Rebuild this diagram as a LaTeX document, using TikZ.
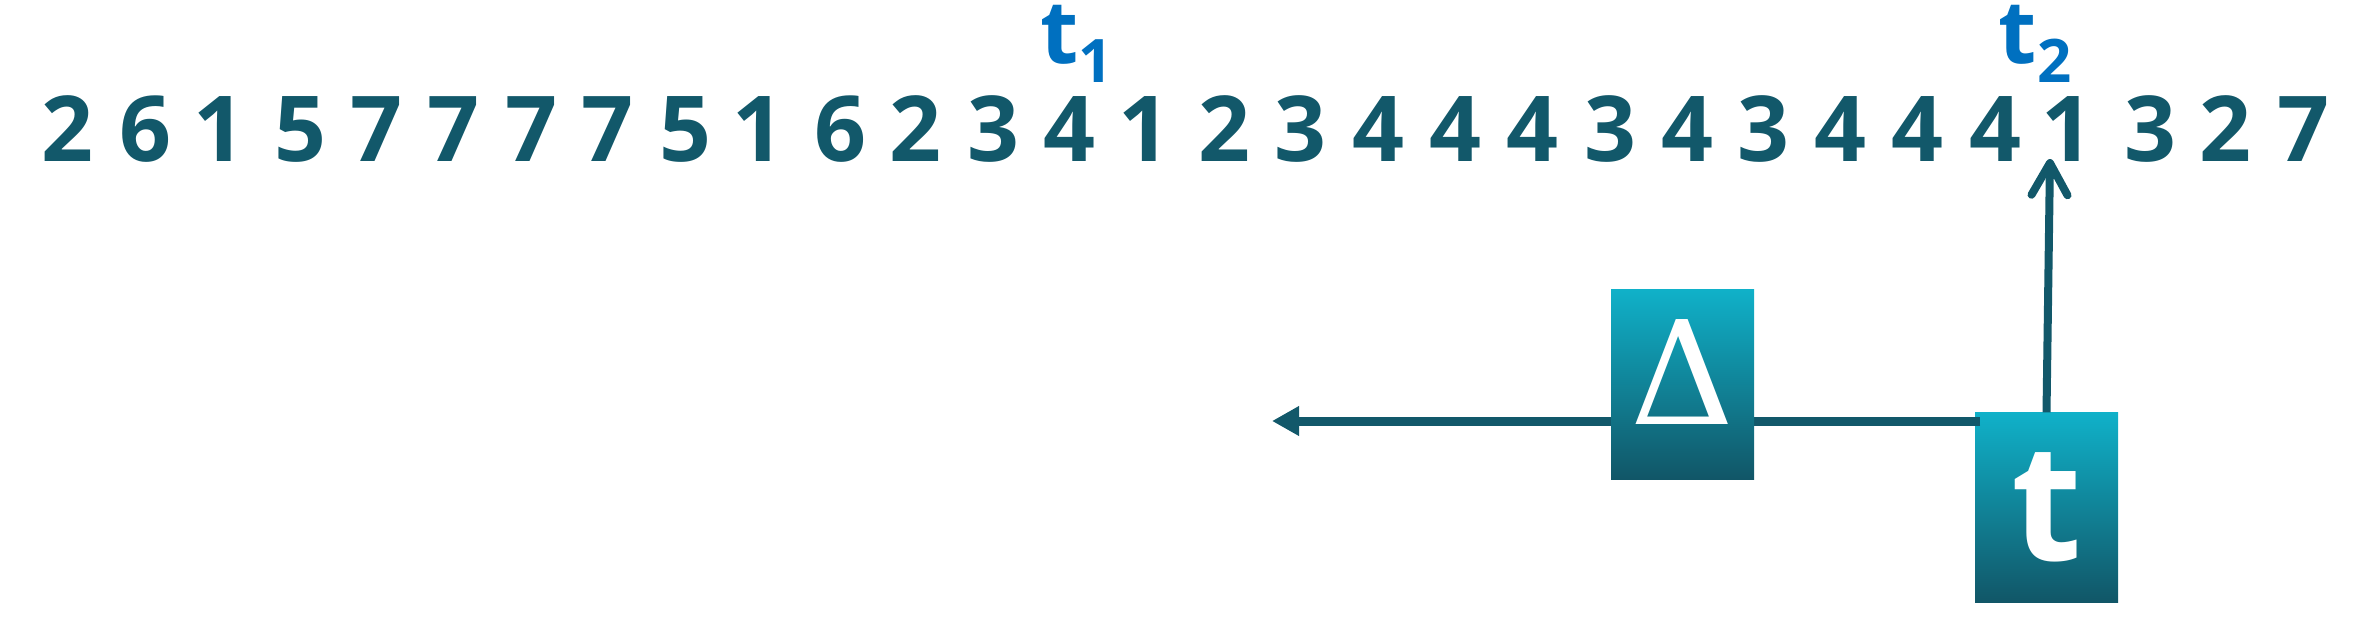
\documentclass[tikz,border=0pt]{standalone}
\usepackage{fontspec}
\setmainfont{Open Sans}
\newfontfamily\deltafont{DejaVu Serif}
\usetikzlibrary{arrows.meta}
\definecolor{digitcol}{HTML}{12586A}
\definecolor{tblue}{HTML}{0070C0}
\definecolor{gradtop}{HTML}{10B1C9}
\definecolor{gradbot}{HTML}{115667}
\tikzset{
  digit/.style={anchor=base, inner sep=0pt, text=digitcol, font=\bfseries\fontsize{91}{91}\selectfont},
  tlabel/.style={anchor=base, inner sep=0pt, text=tblue, font=\bfseries\fontsize{88}{88}\selectfont},
  gradbox/.style={rectangle, draw=none, minimum width=143pt, minimum height=190pt, inner sep=0pt,
    top color=gradtop, bottom color=gradbot, text=white},
  conn/.style={draw=digitcol, line width=9pt},
}
\begin{document}
\begin{tikzpicture}[x=1pt, y=-1pt]
\useasboundingbox (0,0) rectangle (2356,619);
% digit sequence
\foreach \x/\d [count=\i] in {67/2,145/6,219/1,300/5,376/7,453/7,531/7,607/7,685/5,758/1,
  840/6,915/2,993/3,1069/4,1144/1,1224/2,1300/3,1378/4,1455/4,1532/4,1610/3,1687/4,1763/3,
  1840/4,1917/4,1995/4,2067/1,2150/3,2225/2,2303/7}
  \node[digit] (d\i) at (\x,161) {\d};
% time labels
\node[tlabel] (t1) at (1077,63) {t\raisebox{-19pt}{\fontsize{60}{60}\selectfont 1}};
\node[tlabel] (t2) at (2035,63) {t\raisebox{-19pt}{\fontsize{60}{60}\selectfont 2}};
% t box
\node[gradbox, font=\bfseries\fontsize{163}{163}\selectfont] (tbox) at (2046.5,507.5) {t};
% horizontal connector
\coordinate (hstart) at (1980,421);
\coordinate (hend) at (1272,421);
\draw[conn, -{Triangle[length=27pt,width=28pt]}] (hstart) -- (hend);
% delta box
\node[gradbox, font=\deltafont\fontsize{144}{144}\selectfont] (dbox) at (1682.5,384) {\raisebox{23pt}{Δ}};
% vertical arrow
\coordinate (uptip) at (2050,159);
\draw[draw=digitcol, line width=8pt, -{Straight Barb[length=32pt,width=36pt,round]}] (tbox.north) -- (uptip);
\end{tikzpicture}
\end{document}
